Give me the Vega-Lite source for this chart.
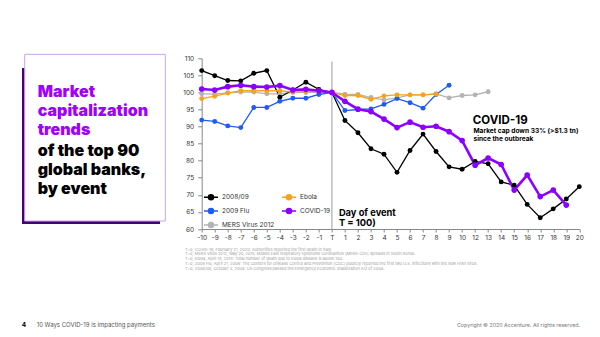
{
  "$schema": "https://vega.github.io/schema/vega-lite/v6.json",
  "width": 377.6,
  "height": 170.7,
  "autosize": {"type": "none"},
  "padding": {"left": 201.7, "top": 58.3, "right": 20.7, "bottom": 108},
  "background": "white",
  "config": {"view": {"stroke": null}, "font": "Inter"},
  "datasets": {
    "series": [
      {"series": "MERS Virus 2012", "t": "-10", "v": 99.6},
      {"series": "MERS Virus 2012", "t": "-9", "v": 99.5},
      {"series": "MERS Virus 2012", "t": "-8", "v": 99.9},
      {"series": "MERS Virus 2012", "t": "-7", "v": 100.1},
      {"series": "MERS Virus 2012", "t": "-6", "v": 100.1},
      {"series": "MERS Virus 2012", "t": "-5", "v": 99.6},
      {"series": "MERS Virus 2012", "t": "-4", "v": 99.6},
      {"series": "MERS Virus 2012", "t": "-3", "v": 100.0},
      {"series": "MERS Virus 2012", "t": "-2", "v": 100.0},
      {"series": "MERS Virus 2012", "t": "-1", "v": 100.0},
      {"series": "MERS Virus 2012", "t": "T", "v": 100.0},
      {"series": "MERS Virus 2012", "t": "1", "v": 99.5},
      {"series": "MERS Virus 2012", "t": "2", "v": 99.4},
      {"series": "MERS Virus 2012", "t": "3", "v": 98.5},
      {"series": "MERS Virus 2012", "t": "4", "v": 97.8},
      {"series": "MERS Virus 2012", "t": "5", "v": 98.4},
      {"series": "MERS Virus 2012", "t": "6", "v": 99.3},
      {"series": "MERS Virus 2012", "t": "7", "v": 99.3},
      {"series": "MERS Virus 2012", "t": "8", "v": 99.6},
      {"series": "MERS Virus 2012", "t": "9", "v": 98.4},
      {"series": "MERS Virus 2012", "t": "10", "v": 99.1},
      {"series": "MERS Virus 2012", "t": "12", "v": 99.3},
      {"series": "MERS Virus 2012", "t": "13", "v": 100.2},
      {"series": "2008/09", "t": "-10", "v": 106.4},
      {"series": "2008/09", "t": "-9", "v": 104.9},
      {"series": "2008/09", "t": "-8", "v": 103.5},
      {"series": "2008/09", "t": "-7", "v": 103.4},
      {"series": "2008/09", "t": "-6", "v": 105.6},
      {"series": "2008/09", "t": "-5", "v": 106.4},
      {"series": "2008/09", "t": "-4", "v": 98.6},
      {"series": "2008/09", "t": "-3", "v": 100.7},
      {"series": "2008/09", "t": "-2", "v": 103.0},
      {"series": "2008/09", "t": "-1", "v": 100.9},
      {"series": "2008/09", "t": "T", "v": 100.0},
      {"series": "2008/09", "t": "1", "v": 91.8},
      {"series": "2008/09", "t": "2", "v": 88.2},
      {"series": "2008/09", "t": "3", "v": 83.5},
      {"series": "2008/09", "t": "4", "v": 81.9},
      {"series": "2008/09", "t": "5", "v": 76.6},
      {"series": "2008/09", "t": "6", "v": 83.0},
      {"series": "2008/09", "t": "7", "v": 87.8},
      {"series": "2008/09", "t": "8", "v": 82.7},
      {"series": "2008/09", "t": "9", "v": 78.2},
      {"series": "2008/09", "t": "10", "v": 77.5},
      {"series": "2008/09", "t": "12", "v": 79.8},
      {"series": "2008/09", "t": "13", "v": 79.1},
      {"series": "2008/09", "t": "14", "v": 73.8},
      {"series": "2008/09", "t": "15", "v": 72.8},
      {"series": "2008/09", "t": "16", "v": 67.2},
      {"series": "2008/09", "t": "17", "v": 63.3},
      {"series": "2008/09", "t": "18", "v": 65.9},
      {"series": "2008/09", "t": "19", "v": 68.8},
      {"series": "2008/09", "t": "20", "v": 72.4},
      {"series": "2009 Flu", "t": "-10", "v": 91.9},
      {"series": "2009 Flu", "t": "-9", "v": 91.5},
      {"series": "2009 Flu", "t": "-8", "v": 90.2},
      {"series": "2009 Flu", "t": "-7", "v": 89.7},
      {"series": "2009 Flu", "t": "-6", "v": 95.6},
      {"series": "2009 Flu", "t": "-5", "v": 95.6},
      {"series": "2009 Flu", "t": "-4", "v": 97.4},
      {"series": "2009 Flu", "t": "-3", "v": 98.3},
      {"series": "2009 Flu", "t": "-2", "v": 98.3},
      {"series": "2009 Flu", "t": "-1", "v": 99.4},
      {"series": "2009 Flu", "t": "T", "v": 100.0},
      {"series": "2009 Flu", "t": "1", "v": 94.7},
      {"series": "2009 Flu", "t": "2", "v": 95.0},
      {"series": "2009 Flu", "t": "3", "v": 95.2},
      {"series": "2009 Flu", "t": "4", "v": 96.5},
      {"series": "2009 Flu", "t": "5", "v": 98.2},
      {"series": "2009 Flu", "t": "6", "v": 97.0},
      {"series": "2009 Flu", "t": "7", "v": 95.4},
      {"series": "2009 Flu", "t": "8", "v": 99.4},
      {"series": "2009 Flu", "t": "9", "v": 102.1},
      {"series": "Ebola", "t": "-10", "v": 98.2},
      {"series": "Ebola", "t": "-9", "v": 98.9},
      {"series": "Ebola", "t": "-8", "v": 99.8},
      {"series": "Ebola", "t": "-7", "v": 100.5},
      {"series": "Ebola", "t": "-6", "v": 100.5},
      {"series": "Ebola", "t": "-5", "v": 100.5},
      {"series": "Ebola", "t": "-4", "v": 100.5},
      {"series": "Ebola", "t": "-3", "v": 100.1},
      {"series": "Ebola", "t": "-2", "v": 100.3},
      {"series": "Ebola", "t": "-1", "v": 100.5},
      {"series": "Ebola", "t": "T", "v": 100.0},
      {"series": "Ebola", "t": "1", "v": 99.1},
      {"series": "Ebola", "t": "2", "v": 99.1},
      {"series": "Ebola", "t": "3", "v": 98.0},
      {"series": "Ebola", "t": "4", "v": 99.0},
      {"series": "Ebola", "t": "5", "v": 99.3},
      {"series": "Ebola", "t": "6", "v": 99.3},
      {"series": "Ebola", "t": "7", "v": 99.3},
      {"series": "Ebola", "t": "8", "v": 99.5},
      {"series": "COVID-19", "t": "-10", "v": 101.0},
      {"series": "COVID-19", "t": "-9", "v": 100.7},
      {"series": "COVID-19", "t": "-8", "v": 101.7},
      {"series": "COVID-19", "t": "-7", "v": 102.1},
      {"series": "COVID-19", "t": "-6", "v": 101.7},
      {"series": "COVID-19", "t": "-5", "v": 101.6},
      {"series": "COVID-19", "t": "-4", "v": 102.0},
      {"series": "COVID-19", "t": "-3", "v": 100.7},
      {"series": "COVID-19", "t": "-2", "v": 100.9},
      {"series": "COVID-19", "t": "-1", "v": 100.5},
      {"series": "COVID-19", "t": "T", "v": 100.0},
      {"series": "COVID-19", "t": "1", "v": 97.4},
      {"series": "COVID-19", "t": "2", "v": 95.1},
      {"series": "COVID-19", "t": "3", "v": 94.4},
      {"series": "COVID-19", "t": "4", "v": 92.2},
      {"series": "COVID-19", "t": "5", "v": 89.7},
      {"series": "COVID-19", "t": "6", "v": 91.3},
      {"series": "COVID-19", "t": "7", "v": 89.8},
      {"series": "COVID-19", "t": "8", "v": 90.1},
      {"series": "COVID-19", "t": "9", "v": 88.5},
      {"series": "COVID-19", "t": "10", "v": 85.9},
      {"series": "COVID-19", "t": "12", "v": 78.7},
      {"series": "COVID-19", "t": "13", "v": 80.8},
      {"series": "COVID-19", "t": "14", "v": 78.9},
      {"series": "COVID-19", "t": "15", "v": 71.4},
      {"series": "COVID-19", "t": "16", "v": 75.8},
      {"series": "COVID-19", "t": "17", "v": 69.5},
      {"series": "COVID-19", "t": "18", "v": 71.4},
      {"series": "COVID-19", "t": "19", "v": 67.0}
    ]
  },
  "layer": [
    {
      "data": {"values": [{}]},
      "mark": {"type": "rect", "fill": "#460073"},
      "encoding": {"x": {"value": -179.7}, "x2": {"value": -41.7}, "y": {"value": 9.7}, "y2": {"value": 165.7}}
    },
    {
      "data": {"values": [{}]},
      "mark": {"type": "rect", "fill": "white", "stroke": "#c9a2f5", "strokeWidth": 1},
      "encoding": {"x": {"value": -177}, "x2": {"value": -36.4}, "y": {"value": -4}, "y2": {"value": 162.7}}
    },
    {
      "data": {"values": [{}]},
      "mark": {"type": "text", "text": ["Market", "capitalization", "trends"], "font": "Inter", "fontWeight": 900, "fontSize": 16, "lineHeight": 19, "align": "left", "baseline": "alphabetic", "color": "#a100ff"},
      "encoding": {"x": {"value": -164}, "y": {"value": 39}}
    },
    {
      "data": {"values": [{}]},
      "mark": {"type": "text", "text": ["of the top 90", "global banks,", "by event"], "font": "Inter", "fontWeight": 900, "fontSize": 16, "lineHeight": 19, "align": "left", "baseline": "alphabetic", "color": "#000000"},
      "encoding": {"x": {"value": -164}, "y": {"value": 97.4}}
    },
    {
      "data": {"values": [{}]},
      "mark": {"type": "text", "text": ["T=0, COVID-19, February 21, 2020: Authorities reported the first death in Italy.", "T=0, MERS Virus 2012, May 20, 2015: Middle East respiratory syndrome coronavirus (MERS-CoV) spreads in South Korea.", "T=0, Ebola, April 14, 2014: Total number of death due to Ebola disease is above 100.", "T=0, 2009 Flu, April 21, 2009: The Centers for Disease Control and Prevention (CDC) publicly reported the first two U.S. infections with the new H1N1 virus.", "T=0, 2008/09, October 3, 2008: US Congress passed the Emergency Economic Stabilization Act of 2008."], "fontSize": 4, "lineHeight": 4.9, "align": "left", "baseline": "alphabetic", "color": "#a0a0a0"},
      "encoding": {"x": {"value": -16.7}, "y": {"value": 192.2}}
    },
    {
      "data": {"values": [{}]},
      "mark": {"type": "text", "text": "4", "fontSize": 6.5, "fontWeight": "bold", "align": "left", "baseline": "alphabetic", "color": "#000000"},
      "encoding": {"x": {"value": -180}, "y": {"value": 268.5}}
    },
    {
      "data": {"values": [{}]},
      "mark": {"type": "text", "text": "10 Ways COVID-19 is impacting payments", "fontSize": 6, "align": "left", "baseline": "alphabetic", "color": "#555555"},
      "encoding": {"x": {"value": -165}, "y": {"value": 268.5}}
    },
    {
      "data": {"values": [{}]},
      "mark": {"type": "text", "text": "Copyright © 2020 Accenture. All rights reserved.", "fontSize": 5.3, "align": "right", "baseline": "alphabetic", "color": "#777777"},
      "encoding": {"x": {"value": 378.3}, "y": {"value": 268.5}}
    },
    {
      "data": {"values": [{}]},
      "mark": {"type": "rule", "color": "#9a9a9a", "strokeWidth": 1},
      "encoding": {"x": {"datum": "T", "type": "ordinal"}, "y": {"datum": 109, "type": "quantitative"}, "y2": {"datum": 60}}
    },
    {
      "data": {"name": "series"},
      "mark": {"type": "line", "interpolate": "linear"},
      "encoding": {
        "x": {"field": "t", "type": "ordinal"},
        "y": {"field": "v", "type": "quantitative"},
        "color": {
          "field": "series", "type": "nominal",
          "scale": {"domain": ["2008/09", "2009 Flu", "MERS Virus 2012", "Ebola", "COVID-19"], "range": ["#000000", "#1d5cf5", "#b3b3b3", "#f7a21b", "#8c00ff"]},
          "legend": {
            "orient": "none", "legendX": 1.3, "legendY": 130.7, "columns": 2, "columnPadding": 4, "rowPadding": -3, "title": null,
            "labelFontSize": 6.5, "labelColor": "#333333", "labelOffset": 3, "labelFont": "Inter",
            "symbolType": "M-1,0L1,0M-0.36,0A0.36,0.36,0,1,0,0.36,0A0.36,0.36,0,1,0,-0.36,0Z",
            "symbolSize": 196, "symbolStrokeWidth": 1.5,
            "encode": {"symbols": {"update": {"fill": {"field": "value", "scale": "color"}, "stroke": {"field": "value", "scale": "color"}}}}
          }
        },
        "strokeWidth": {"condition": {"test": "datum.series === 'COVID-19'", "value": 2.6}, "value": 1.3}
      }
    },
    {
      "data": {"name": "series"},
      "mark": {"type": "point", "filled": true, "opacity": 1},
      "encoding": {
        "x": {"field": "t", "type": "ordinal"},
        "y": {"field": "v", "type": "quantitative"},
        "color": {"field": "series", "type": "nominal"},
        "size": {"condition": {"test": "datum.series === 'COVID-19'", "value": 32}, "value": 24}
      }
    },
    {
      "data": {"values": [{}]},
      "mark": {"type": "text", "text": "COVID-19", "fontSize": 11.5, "fontWeight": "bold", "align": "left", "baseline": "alphabetic", "dx": -2.3, "color": "#000000"},
      "encoding": {"x": {"datum": "12", "type": "ordinal"}, "y": {"datum": 90.7, "type": "quantitative"}}
    },
    {
      "data": {"values": [{}]},
      "mark": {"type": "text", "text": ["Market cap down 33% (>$1.3 tn)", "since the outbreak"], "fontSize": 6.6, "fontWeight": "bold", "lineHeight": 8.6, "align": "left", "baseline": "alphabetic", "dx": -1.7, "color": "#000000"},
      "encoding": {"x": {"datum": "12", "type": "ordinal"}, "y": {"datum": 88.2, "type": "quantitative"}}
    },
    {
      "data": {"values": [{}]},
      "mark": {"type": "text", "text": ["Day of event", "T = 100)"], "fontSize": 9.3, "fontWeight": "bold", "lineHeight": 10.2, "align": "left", "baseline": "alphabetic", "dx": 7, "color": "#000000"},
      "encoding": {"x": {"datum": "T", "type": "ordinal"}, "y": {"datum": 63.8, "type": "quantitative"}}
    }
  ],
  "encoding": {
    "x": {
      "type": "ordinal",
      "scale": {"type": "point", "padding": 0, "domain": ["-10", "-9", "-8", "-7", "-6", "-5", "-4", "-3", "-2", "-1", "T", "1", "2", "3", "4", "5", "6", "7", "8", "9", "10", "12", "13", "14", "15", "16", "17", "18", "19", "20"]},
      "axis": {"title": null, "labelAngle": 0, "labelFontSize": 6.5, "labelColor": "#333333", "labelPadding": 2, "tickSize": 3, "tickColor": "#888888", "domainColor": "#888888", "grid": false, "labelFont": "Inter"}
    },
    "y": {
      "type": "quantitative",
      "scale": {"domain": [60, 110], "nice": false, "zero": false},
      "axis": {"title": null, "values": [60, 65, 70, 75, 80, 85, 90, 95, 100, 105, 110], "labelFontSize": 6.5, "labelColor": "#333333", "labelPadding": 4, "tickSize": 4, "tickColor": "#888888", "domainColor": "#888888", "grid": false, "labelFont": "Inter"}
    }
  }
}
